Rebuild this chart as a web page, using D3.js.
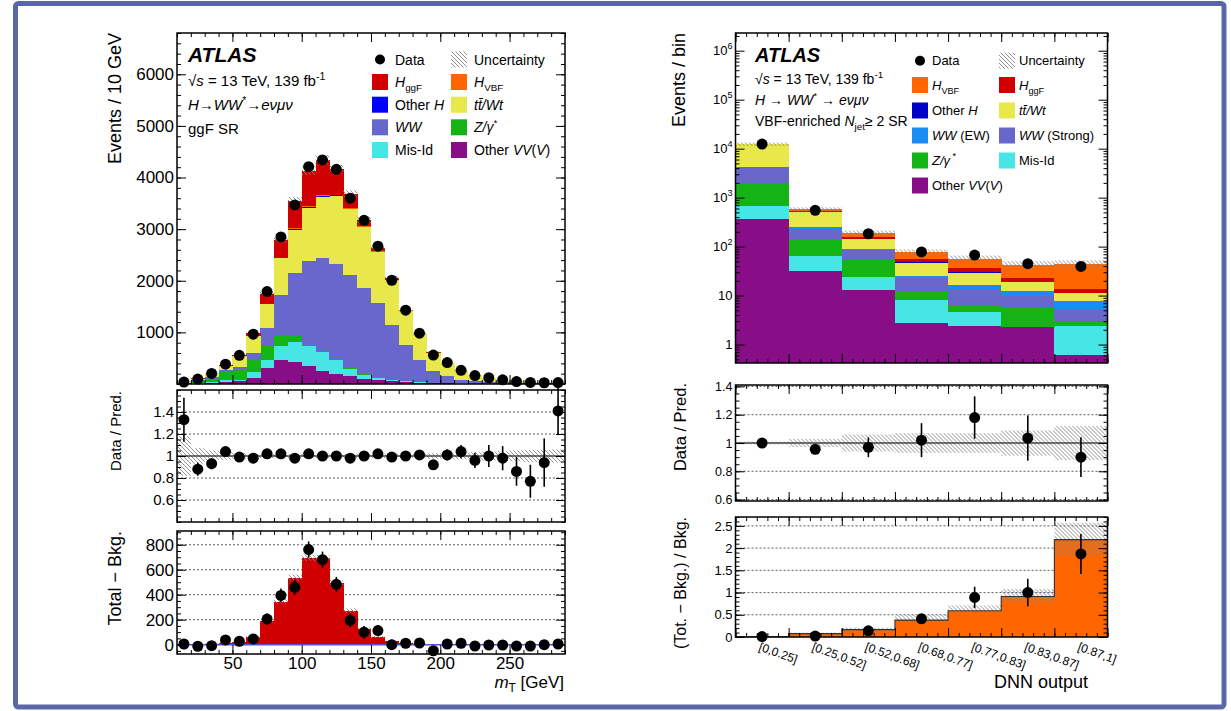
<!DOCTYPE html>
<html>
<head>
<meta charset="utf-8">
<script src="https://cdn.jsdelivr.net/npm/d3@7"></script>
<style>
  body { margin: 0; background: #fff; }
  svg text { font-family: "Liberation Sans", Arial, Helvetica, sans-serif; fill: #000; }
</style>
</head>
<body>
<div id="chart"></div>
<script>
// ---------- left: ggF SR, mT in 10 GeV bins ----------
var mtCenters = [15,25,35,45,55,65,75,85,95,105,115,125,135,145,155,165,175,185,195,205,215,225,235,245,255,265,275,285];
var lVV     = [3,6,12,40,52,117,311,472,421,343,259,201,149,104,72,50,35,25,18,12,8,6,4,3,2,2,1,1];
var lMisId  = [3,10,18,38,33,116,161,259,394,388,355,271,142,78,45,25,15,10,7,5,3,2,2,1,1,1,0,0];
var lZ      = [5,40,75,168,193,239,259,226,122,19,20,20,10,5,3,2,1,1,1,0,0,0,0,0,0,0,0,0];
var lWW     = [5,15,30,20,52,129,355,775,1215,1628,1808,1841,1820,1674,1450,1074,713,437,225,132,74,52,38,27,19,14,9,7];
var lTop    = [10,35,80,90,207,320,460,700,840,1030,1180,1300,1260,1175,985,865,655,495,355,258,170,110,76,52,33,22,15,12];
var lOtherH = [0,0,1,1,2,4,8,12,15,20,20,20,15,10,8,5,3,2,1,1,0,0,0,0,0,0,0,0];
var lVBF    = [0,0,0,1,1,2,4,6,9,11,11,10,8,6,4,3,2,1,1,0,0,0,0,0,0,0,0,0];
var lGgF    = [2,3,5,15,22,60,190,345,535,695,695,497,272,127,60,27,12,6,3,2,1,1,1,0,0,0,0,0];
var lData   = [38,96,205,385,555,965,1790,2850,3470,4210,4340,4160,3600,3170,2670,2010,1430,985,560,415,266,164,121,81,48,30,24,28];
// data / prediction
var lRatio    = [1.33,0.88,0.93,1.04,0.99,0.98,1.02,1.02,0.98,1.02,1.0,1.0,0.98,1.0,1.02,0.99,1.0,1.01,0.92,1.01,1.04,0.96,1.0,0.98,0.86,0.77,0.94,1.41];
var lRatioErr = [0.2,0.06,0.05,0.04,0.03,0.02,0.02,0.02,0.02,0.02,0.02,0.02,0.02,0.02,0.02,0.02,0.03,0.03,0.03,0.05,0.06,0.07,0.1,0.11,0.13,0.15,0.22,0.22];
var lUncRel   = [0.18,0.07,0.05,0.035,0.025,0.02,0.02,0.02,0.02,0.02,0.02,0.02,0.02,0.02,0.02,0.02,0.02,0.02,0.025,0.025,0.03,0.035,0.04,0.045,0.05,0.055,0.055,0.06];
// total - background
var lDiff    = [5,-13,-8,38,27,46,205,394,459,761,680,483,194,100,113,0,11,13,-49,5,11,-11,-3,-3,-11,-11,0,5];
var lDiffErr = [15,15,18,25,30,35,45,55,60,65,65,60,55,50,45,40,35,30,25,20,18,15,12,10,8,7,6,5];
var lSigUnc  = [2,2,3,5,6,8,15,20,25,25,25,22,18,12,8,5,3,2,2,1,1,1,1,0,0,0,0,0];

// ---------- right: VBF-enriched SR, DNN output bins ----------
var dnnBins  = ["[0,0.25]","[0.25,0.52]","[0.52,0.68]","[0.68,0.77]","[0.77,0.83]","[0.83,0.87]","[0.87,1]"];
var rVV      = [359,31.8,13.2,2.73,2.38,2.26,0.61];
var rMisId   = [314,31.8,10.8,5.5,2.2,0.05,1.73];
var rZ       = [1349,76,30.4,4.2,1.5,3.5,0.62];
var rWWs     = [2148,94,32.8,10.1,7.3,4.0,2.44];
var rWWew    = [30,12,4.1,3.0,3.0,2.4,2.2];
var rTop     = [8000,253,48.4,21.6,13.0,6.7,3.7];
var rOtherH  = [5,2,1,0.5,0.4,0.3,0.2];
var rGgF     = [60,30,17.8,7.6,6.3,3.3,2.3];
var rVBF     = [10,45,30,21,21,20.5,30];
var rData    = [12400,550,183,78,67,44.7,39.4];
var rRatio    = [1.0,0.955,0.97,1.02,1.18,1.035,0.9];
var rRatioErr = [0.01,0.03,0.07,0.12,0.15,0.16,0.14];
var rUncRel   = [0.01,0.03,0.06,0.07,0.07,0.09,0.12];
var rSig   = [0.005,0.075,0.165,0.38,0.59,0.91,2.19];
var rSigLo = [0,0.05,0.13,0.33,0.55,0.78,1.83];
var rSigHi = [0.01,0.1,0.21,0.5,0.71,1.08,2.57];
var rDiff    = [0.01,0.02,0.14,0.41,0.89,1.0,1.87];
var rDiffErr = [0.01,0.03,0.05,0.11,0.24,0.31,0.45];

var col = {
  vv: "#880e88", misid: "#46e6e6", z: "#14b414", ww: "#6868cc", wwew: "#1a8cf5",
  top: "#e9e84a", otherH: "#0000ff", otherHr: "#0000c8", vbf: "#ff6600", ggf: "#d00000"
};

var svg = d3.select("#chart").append("svg").attr("width", 1231).attr("height", 711);
svg.append("rect").attr("width", 1231).attr("height", 711).attr("fill", "#fff");

var defs = svg.append("defs");
defs.append("pattern").attr("id", "hatch").attr("patternUnits", "userSpaceOnUse")
  .attr("width", 4).attr("height", 4)
  .append("path").attr("d", "M-1,-1L5,5M-1,3L1,5M3,-1L5,1")
  .attr("stroke", "#858585").attr("stroke-width", 0.9);

// rich text: parts of [text, kind], kind: "", "i", "sub", "sup", "isub", "isup"
function rich(sel, parts) {
  var shift = 0;
  parts.forEach(function(p) {
    var k = p[1] || "";
    var t = sel.append("tspan").text(p[0]);
    var want = k.indexOf("sub") >= 0 ? 4 : (k.indexOf("sup") >= 0 ? -6 : 0);
    if (want != shift) { t.attr("dy", want - shift); shift = want; }
    if (want != 0) t.attr("font-size", "0.7em");
    if (k.charAt(0) == "i") t.style("font-style", "italic");
  });
}

function panel(x0, y0) {
  return svg.append("g").attr("transform", "translate(" + x0 + "," + y0 + ")");
}
function frame(g, w, h) {
  g.append("rect").attr("width", w).attr("height", h)
    .attr("fill", "none").attr("stroke", "#000").attr("stroke-width", 1.5);
}
function noLabel() { return ""; }

function yAxes(g, y, w, major, minor, fmt, fs) {
  var list = [
    [d3.axisLeft(y).tickValues(minor).tickSize(-4).tickFormat(noLabel), 0],
    [d3.axisRight(y).tickValues(minor).tickSize(-4).tickFormat(noLabel), w],
    [d3.axisLeft(y).tickValues(major).tickSize(-9).tickPadding(3).tickFormat(fmt), 0],
    [d3.axisRight(y).tickValues(major).tickSize(-9).tickFormat(noLabel), w]
  ];
  var out;
  list.forEach(function(a) {
    var gg = g.append("g").attr("transform", "translate(" + a[1] + ",0)").call(a[0]);
    gg.select(".domain").remove();
    gg.attr("font-size", fs);
    if (a[0].tickFormat() === fmt) out = gg;
  });
  return out;
}
function xAxes(g, x, h, major, minor, fmt, fs) {
  var list = [
    [d3.axisBottom(x).tickValues(minor).tickSize(-4).tickFormat(noLabel), h],
    [d3.axisTop(x).tickValues(minor).tickSize(-4).tickFormat(noLabel), 0],
    [d3.axisBottom(x).tickValues(major).tickSize(-9).tickPadding(3).tickFormat(fmt || noLabel), h],
    [d3.axisTop(x).tickValues(major).tickSize(-9).tickFormat(noLabel), 0]
  ];
  list.forEach(function(a) {
    var gg = g.append("g").attr("transform", "translate(0," + a[1] + ")").call(a[0]);
    gg.select(".domain").remove();
    gg.attr("font-size", fs);
  });
}
function grid(g, y, w, vals) {
  g.append("g").selectAll("line").data(vals).enter().append("line")
    .attr("x1", 0).attr("x2", w).attr("y1", function(d) { return y(d); }).attr("y2", function(d) { return y(d); })
    .attr("stroke", "#333").attr("stroke-width", 0.8).attr("stroke-dasharray", "2,2");
}
function points(g, xs, ys, errs, y, r) {
  var gp = g.append("g");
  xs.forEach(function(xv, i) {
    if (errs) gp.append("line").attr("x1", xv).attr("x2", xv)
      .attr("y1", y(ys[i] - errs[i])).attr("y2", y(ys[i] + errs[i]))
      .attr("stroke", "#000").attr("stroke-width", 1.6);
    gp.append("circle").attr("cx", xv).attr("cy", y(ys[i])).attr("r", r).attr("fill", "#000");
  });
}
function yTitle(x, yEnd, txt, fs) {
  svg.append("text").attr("transform", "translate(" + x + "," + yEnd + ") rotate(-90)")
    .attr("text-anchor", "end").attr("font-size", fs).text(txt);
}
function legend(items, fs, gap) {
  items.forEach(function(it) {
    if (it.kind == "dot") svg.append("circle").attr("cx", it.x + 8).attr("cy", it.y).attr("r", 5).attr("fill", "#000");
    else svg.append("rect").attr("x", it.x).attr("y", it.y - 8).attr("width", 16).attr("height", 16)
      .attr("fill", it.kind == "hatch" ? "url(#hatch)" : it.fill);
    var t = svg.append("text").attr("x", it.x + gap).attr("y", it.y + fs * 0.36).attr("font-size", fs);
    rich(t, it.label);
  });
}
var half = 5; // half bin width in GeV

// ================= LEFT =================
var LX = 177, LW = 388;
var xl = d3.scaleLinear().domain([10, 290]).range([0, LW]);
var xMajor = [50, 100, 150, 200, 250];
var xMinor = d3.range(10, 291, 10);

// main
var L1 = panel(LX, 33), L1H = 351;
var yl1 = d3.scaleLinear().domain([0, 6800]).range([L1H, 0]);
var lKeys = ["vv", "misid", "z", "ww", "top", "otherH", "vbf", "ggf"];
var lRows = mtCenters.map(function(c, i) {
  return { c: c, vv: lVV[i], misid: lMisId[i], z: lZ[i], ww: lWW[i], top: lTop[i],
           otherH: lOtherH[i], vbf: lVBF[i], ggf: lGgF[i] };
});
var lStack = d3.stack().keys(lKeys)(lRows);
lStack.forEach(function(layer) {
  L1.append("g").attr("fill", col[layer.key]).attr("shape-rendering", "crispEdges")
    .selectAll("rect").data(layer).enter().append("rect")
    .attr("x", function(d) { return xl(d.data.c - half); })
    .attr("width", function(d) { return xl(d.data.c + half) - xl(d.data.c - half) + 0.4; })
    .attr("y", function(d) { return yl1(d[1]); })
    .attr("height", function(d) { return Math.max(0, yl1(d[0]) - yl1(d[1])); });
});
var lTotal = lRows.map(function(r) { return d3.sum(lKeys, function(k) { return r[k]; }); });
L1.append("g").selectAll("rect").data(lTotal).enter().append("rect")
  .attr("x", function(d, i) { return xl(mtCenters[i] - half); })
  .attr("width", function(d, i) { return xl(mtCenters[i] + half) - xl(mtCenters[i] - half); })
  .attr("y", function(d, i) { return yl1(d * (1 + lUncRel[i])); })
  .attr("height", function(d, i) { return yl1(d * (1 - lUncRel[i])) - yl1(d * (1 + lUncRel[i])); })
  .attr("fill", "url(#hatch)");
points(L1, mtCenters.map(function(c) { return xl(c); }), lData, null, yl1, 5.5);
yAxes(L1, yl1, LW, [1000, 2000, 3000, 4000, 5000, 6000], d3.range(0, 6801, 200), function(d) { return d; }, 17);
xAxes(L1, xl, L1H, xMajor, xMinor, null, 17);
frame(L1, LW, L1H);

// ratio
var L2 = panel(LX, 390), L2H = 132;
var yl2 = d3.scaleLinear().domain([0.4, 1.6]).range([L2H, 0]);
L2.append("g").selectAll("rect").data(lUncRel).enter().append("rect")
  .attr("x", function(d, i) { return xl(mtCenters[i] - half); })
  .attr("width", function(d, i) { return xl(mtCenters[i] + half) - xl(mtCenters[i] - half); })
  .attr("y", function(d) { return yl2(1 + d); })
  .attr("height", function(d) { return yl2(1 - d) - yl2(1 + d); })
  .attr("fill", "url(#hatch)");
grid(L2, yl2, LW, [0.6, 0.8, 1.2, 1.4]);
L2.append("line").attr("x1", 0).attr("x2", LW).attr("y1", yl2(1)).attr("y2", yl2(1))
  .attr("stroke", "#444").attr("stroke-width", 1.4);
points(L2, mtCenters.map(function(c) { return xl(c); }), lRatio, lRatioErr, yl2, 5.5);
yAxes(L2, yl2, LW, [0.6, 0.8, 1, 1.2, 1.4], d3.range(0.4, 1.601, 0.05), function(d) { return +d.toFixed(2); }, 15);
xAxes(L2, xl, L2H, xMajor, xMinor, null, 15);
frame(L2, LW, L2H);

// total - bkg
var L3 = panel(LX, 531), L3H = 123;
var yl3 = d3.scaleLinear().domain([-75, 910]).range([L3H, 0]);
grid(L3, yl3, LW, [200, 400, 600, 800]);
L3.append("g").attr("fill", col.ggf).attr("shape-rendering", "crispEdges")
  .selectAll("rect").data(lGgF).enter().append("rect")
  .attr("x", function(d, i) { return xl(mtCenters[i] - half); })
  .attr("width", function(d, i) { return xl(mtCenters[i] + half) - xl(mtCenters[i] - half) + 0.4; })
  .attr("y", function(d) { return yl3(d); })
  .attr("height", function(d) { return yl3(0) - yl3(d); });
L3.append("g").selectAll("rect").data(lGgF).enter().append("rect")
  .attr("x", function(d, i) { return xl(mtCenters[i] - half); })
  .attr("width", function(d, i) { return xl(mtCenters[i] + half) - xl(mtCenters[i] - half); })
  .attr("y", function(d, i) { return yl3(d + lSigUnc[i]); })
  .attr("height", function(d, i) { return yl3(d - lSigUnc[i]) - yl3(d + lSigUnc[i]); })
  .attr("fill", "url(#hatch)");
L3.append("line").attr("x1", 0).attr("x2", LW).attr("y1", yl3(0)).attr("y2", yl3(0))
  .attr("stroke", "#5a4fd8").attr("stroke-width", 1.5);
points(L3, mtCenters.map(function(c) { return xl(c); }), lDiff, lDiffErr, yl3, 5.5);
yAxes(L3, yl3, LW, [0, 200, 400, 600, 800], d3.range(-50, 901, 50), function(d) { return d; }, 17);
xAxes(L3, xl, L3H, xMajor, xMinor, function(d) { return d; }, 17);
frame(L3, LW, L3H);

yTitle(121, 33, "Events / 10 GeV", 18);
yTitle(121, 391, "Data / Pred.", 15);
yTitle(121, 531, "Total \u2212 Bkg.", 18);
rich(svg.append("text").attr("x", 564).attr("y", 688).attr("text-anchor", "end").attr("font-size", 17),
  [["m", "i"], ["T", "sub"], [" [GeV]", ""]]);

svg.append("text").attr("x", 188).attr("y", 62).attr("font-size", 21)
  .style("font-weight", "bold").style("font-style", "italic").text("ATLAS");
rich(svg.append("text").attr("x", 188).attr("y", 86).attr("font-size", 15),
  [["\u221a", ""], ["s", "i"], [" = 13 TeV, 139 fb", ""], ["-1", "sup"]]);
rich(svg.append("text").attr("x", 188).attr("y", 110).attr("font-size", 15),
  [["H\u2192WW", "i"], ["*", "sup"], ["\u2192e\u03bd\u03bc\u03bd", "i"]]);
svg.append("text").attr("x", 188).attr("y", 134).attr("font-size", 15).text("ggF SR");

legend([
  { kind: "dot", x: 372, y: 59.5, label: [["Data", ""]] },
  { kind: "hatch", x: 451, y: 59.5, label: [["Uncertainty", ""]] },
  { kind: "box", fill: col.ggf, x: 372, y: 82, label: [["H", "i"], ["ggF", "sub"]] },
  { kind: "box", fill: col.vbf, x: 451, y: 82, label: [["H", "i"], ["VBF", "sub"]] },
  { kind: "box", fill: col.otherH, x: 372, y: 104.7, label: [["Other ", ""], ["H", "i"]] },
  { kind: "box", fill: col.top, x: 451, y: 104.7, label: [["tt\u0304/Wt", "i"]] },
  { kind: "box", fill: col.ww, x: 372, y: 127.3, label: [["WW", "i"]] },
  { kind: "box", fill: col.z, x: 451, y: 127.3, label: [["Z/\u03b3", "i"], ["*", "sup"]] },
  { kind: "box", fill: col.misid, x: 372, y: 150, label: [["Mis-Id", ""]] },
  { kind: "box", fill: col.vv, x: 451, y: 150, label: [["Other ", ""], ["VV", "i"], ["(", ""], ["V", "i"], [")", ""]] }
], 14, 23);

// ================= RIGHT =================
var RX = 735.5, RW = 372;
var xr = d3.scaleLinear().domain([0, 7]).range([0, RW]);
var rxMajor = d3.range(0, 8, 1);
var rxMinor = d3.range(0, 7.01, 0.2);
var rCenters = dnnBins.map(function(b, i) { return xr(i + 0.5); });

// main (log)
var R1 = panel(RX, 33), R1H = 330;
var yMin = 0.42;
var yr1 = d3.scaleLog().domain([yMin, 2.3e6]).range([R1H, 0]);
var rKeys = ["vv", "misid", "z", "wws", "wwew", "top", "otherH", "ggf", "vbf"];
var rCol = { vv: col.vv, misid: col.misid, z: col.z, wws: col.ww, wwew: col.wwew, top: col.top,
             otherH: col.otherHr, ggf: col.ggf, vbf: col.vbf };
var rRows = dnnBins.map(function(b, i) {
  return { i: i, vv: rVV[i], misid: rMisId[i], z: rZ[i], wws: rWWs[i], wwew: rWWew[i], top: rTop[i],
           otherH: rOtherH[i], ggf: rGgF[i], vbf: rVBF[i] };
});
var rStack = d3.stack().keys(rKeys)(rRows);
rStack.forEach(function(layer) {
  R1.append("g").attr("fill", rCol[layer.key]).attr("shape-rendering", "crispEdges")
    .selectAll("rect").data(layer).enter().append("rect")
    .attr("x", function(d) { return xr(d.data.i); })
    .attr("width", function(d) { return xr(d.data.i + 1) - xr(d.data.i) + 0.4; })
    .attr("y", function(d) { return yr1(Math.max(d[1], yMin)); })
    .attr("height", function(d) { return Math.max(0, yr1(Math.max(d[0], yMin)) - yr1(Math.max(d[1], yMin))); });
});
var rTotal = rRows.map(function(r) { return d3.sum(rKeys, function(k) { return r[k]; }); });
R1.append("g").selectAll("rect").data(rTotal).enter().append("rect")
  .attr("x", function(d, i) { return xr(i); })
  .attr("width", function(d, i) { return xr(i + 1) - xr(i); })
  .attr("y", function(d, i) { return yr1(d * (1 + rUncRel[i])) - 1.5; })
  .attr("height", function(d, i) { return yr1(d * (1 - rUncRel[i])) - yr1(d * (1 + rUncRel[i])) + 3; })
  .attr("fill", "url(#hatch)");
points(R1, rCenters, rData, null, yr1, 5.5);
var logMinor = [];
[-1, 0, 1, 2, 3, 4, 5, 6].forEach(function(e) {
  d3.range(2, 10).forEach(function(m) {
    var v = m * Math.pow(10, e);
    if (v > yMin && v < 2.3e6) logMinor.push(v);
  });
});
var logAx = yAxes(R1, yr1, RW, [1, 10, 100, 1e3, 1e4, 1e5, 1e6], logMinor, function(d) { return d; }, 13);
logAx.selectAll(".tick text").each(function(d) {
  var t = d3.select(this);
  if (d < 100) return;
  t.text("");
  t.append("tspan").text("10");
  t.append("tspan").attr("dy", -6).attr("font-size", "0.7em").text(Math.round(Math.log10(d)));
});
xAxes(R1, xr, R1H, rxMajor, rxMinor, null, 13);
frame(R1, RW, R1H);

// ratio
var R2 = panel(RX, 385), R2H = 116;
var yr2 = d3.scaleLinear().domain([0.59, 1.41]).range([R2H, 0]);
R2.append("g").selectAll("rect").data(rUncRel).enter().append("rect")
  .attr("x", function(d, i) { return xr(i); })
  .attr("width", function(d, i) { return xr(i + 1) - xr(i); })
  .attr("y", function(d) { return yr2(1 + d); })
  .attr("height", function(d) { return yr2(1 - d) - yr2(1 + d); })
  .attr("fill", "url(#hatch)");
grid(R2, yr2, RW, [0.6, 0.8, 1.2, 1.4]);
R2.append("line").attr("x1", 0).attr("x2", RW).attr("y1", yr2(1)).attr("y2", yr2(1))
  .attr("stroke", "#444").attr("stroke-width", 1.4);
points(R2, rCenters, rRatio, rRatioErr, yr2, 5.5);
yAxes(R2, yr2, RW, [0.6, 0.8, 1, 1.2, 1.4], d3.range(0.6, 1.41, 0.05), function(d) { return +d.toFixed(2); }, 12.5);
xAxes(R2, xr, R2H, rxMajor, rxMinor, null, 12.5);
frame(R2, RW, R2H);

// (tot - bkg) / bkg
var R3 = panel(RX, 517), R3H = 120;
var yr3 = d3.scaleLinear().domain([0, 2.7]).range([R3H, 0]);
grid(R3, yr3, RW, [0.5, 1, 1.5, 2, 2.5]);
R3.append("g").attr("fill", col.vbf).attr("shape-rendering", "crispEdges")
  .selectAll("rect").data(rSig).enter().append("rect")
  .attr("x", function(d, i) { return xr(i); })
  .attr("width", function(d, i) { return xr(i + 1) - xr(i) + 0.4; })
  .attr("y", function(d) { return yr3(d); })
  .attr("height", function(d) { return yr3(0) - yr3(d); });
R3.append("g").selectAll("rect").data(rSigHi).enter().append("rect")
  .attr("x", function(d, i) { return xr(i); })
  .attr("width", function(d, i) { return xr(i + 1) - xr(i); })
  .attr("y", function(d) { return yr3(d); })
  .attr("height", function(d, i) { return yr3(rSigLo[i]) - yr3(d); })
  .attr("fill", "url(#hatch)");
var stepPts = rSig.map(function(v, i) { return [xr(i), yr3(v)]; });
stepPts.push([xr(rSig.length), yr3(rSig[rSig.length - 1])]);
R3.append("path").attr("d", d3.line().curve(d3.curveStepAfter)(stepPts))
  .attr("fill", "none").attr("stroke", "#333").attr("stroke-width", 1.1);
points(R3, rCenters, rDiff, rDiffErr, yr3, 5.5);
yAxes(R3, yr3, RW, [0, 0.5, 1, 1.5, 2, 2.5], d3.range(0, 2.71, 0.1), function(d) { return +d.toFixed(1); }, 13);
xAxes(R3, xr, R3H, rxMajor, rxMinor, null, 13);
frame(R3, RW, R3H);

svg.append("g").selectAll("text").data(dnnBins).enter().append("text")
  .attr("transform", function(d, i) { return "translate(" + (RX + rCenters[i] - 4) + ",650) rotate(20)"; })
  .attr("font-size", 12).text(function(d) { return d; });
svg.append("text").attr("x", 1088).attr("y", 688).attr("text-anchor", "end").attr("font-size", 18).text("DNN output");

yTitle(685, 33, "Events / bin", 18);
yTitle(686, 383, "Data / Pred.", 16.5);
yTitle(686, 517, "(Tot. \u2212 Bkg.) / Bkg.", 16);

svg.append("text").attr("x", 755).attr("y", 62).attr("font-size", 20)
  .style("font-weight", "bold").style("font-style", "italic").text("ATLAS");
rich(svg.append("text").attr("x", 755).attr("y", 84).attr("font-size", 14),
  [["\u221a", ""], ["s", "i"], [" = 13 TeV, 139 fb", ""], ["-1", "sup"]]);
rich(svg.append("text").attr("x", 755).attr("y", 105).attr("font-size", 14),
  [["H \u2192 WW", "i"], ["*", "sup"], [" \u2192 e\u03bd\u03bc\u03bd", "i"]]);
rich(svg.append("text").attr("x", 755).attr("y", 126).attr("font-size", 14),
  [["VBF-enriched ", ""], ["N", "i"], ["jet", "sub"], ["\u2265 2 SR", ""]]);

legend([
  { kind: "dot", x: 912, y: 60.7, label: [["Data", ""]] },
  { kind: "hatch", x: 999, y: 60.7, label: [["Uncertainty", ""]] },
  { kind: "box", fill: col.vbf, x: 912, y: 85, label: [["H", "i"], ["VBF", "sub"]] },
  { kind: "box", fill: col.ggf, x: 999, y: 85, label: [["H", "i"], ["ggF", "sub"]] },
  { kind: "box", fill: col.otherHr, x: 912, y: 110.5, label: [["Other ", ""], ["H", "i"]] },
  { kind: "box", fill: col.top, x: 999, y: 110.5, label: [["tt\u0304/Wt", "i"]] },
  { kind: "box", fill: col.wwew, x: 912, y: 135.5, label: [["WW", "i"], [" (EW)", ""]] },
  { kind: "box", fill: col.ww, x: 999, y: 135.5, label: [["WW", "i"], [" (Strong)", ""]] },
  { kind: "box", fill: col.z, x: 912, y: 160.5, label: [["Z/\u03b3", "i"], [" *", "sup"]] },
  { kind: "box", fill: col.misid, x: 999, y: 160.5, label: [["Mis-Id", ""]] },
  { kind: "box", fill: col.vv, x: 912, y: 185.5, label: [["Other ", ""], ["VV", "i"], ["(", ""], ["V", "i"], [")", ""]] }
], 13, 20);

// outer border
svg.append("rect").attr("x", 15.5).attr("y", 3.5).attr("width", 1208.5).attr("height", 703.5)
  .attr("rx", 3).attr("fill", "none").attr("stroke", "#5867a6").attr("stroke-width", 5);
</script>
</body>
</html>
